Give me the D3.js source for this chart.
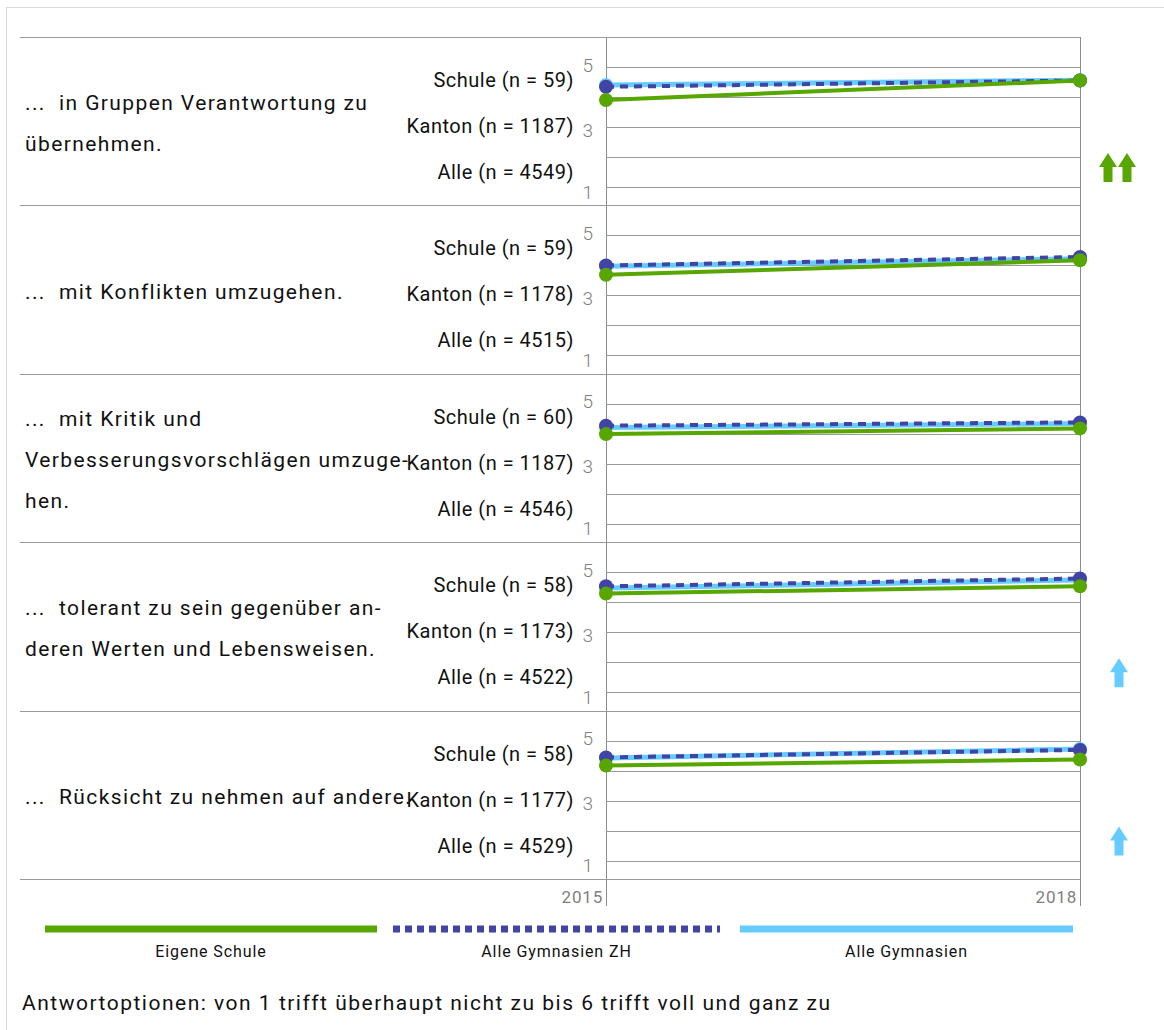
<!DOCTYPE html>
<meta charset="utf-8">
<style>
body, html {
    margin: 0;
    padding: 0;
    background: #fff;
    overflow: hidden;
}
text {
    font-family: Roboto, "Noto Sans", sans-serif;
    white-space: pre;
}
</style>
<svg width="1164" height="1030"></svg>
<script src="https://cdn.jsdelivr.net/npm/d3@7"></script>
<script>

// --- data ---
var questions = [
    ["...  in Gruppen Verantwortung zu", "übernehmen."],
    ["...  mit Konflikten umzugehen."],
    ["...  mit Kritik und", "Verbesserungsvorschlägen umzuge-", "hen."],
    ["...  tolerant zu sein gegenüber an-", "deren Werten und Lebensweisen."],
    ["...  Rücksicht zu nehmen auf andere."]
];
var nSchule = [59, 59, 60, 58, 58];
var nKanton = [1187, 1178, 1187, 1173, 1177];
var nAlle = [4549, 4515, 4546, 4522, 4529];
var years = [2015, 2018];

// means 2015, 2018
var schule = [[3.90, 4.55], [3.69, 4.17], [3.99, 4.18], [4.29, 4.53], [4.17, 4.37]];
var kanton = [[4.34, 4.55], [4.00, 4.28], [4.27, 4.38], [4.53, 4.79], [4.44, 4.69]];
var alle   = [[4.40, 4.56], [3.97, 4.22], [4.21, 4.34], [4.47, 4.74], [4.42, 4.72]];

// trend arrows per item (which series)
var arrows = [["schule", "schule"], [], [], ["alle"], ["alle"]];

var legendLabels = ["Eigene Schule", "Alle Gymnasien ZH", "Alle Gymnasien"];
var yTicks = [1, 3, 5];
var gridValues = [1, 2, 3, 4, 5];
var note = "Antwortoptionen: von 1 trifft überhaupt nicht zu bis 6 trifft voll und ganz zu";

var colors = { schule: "#58a600", kanton: "#4044a4", alle: "#66ccff" };

// --- layout ---
var svg = d3.select("svg");

var x = d3.scaleLinear().domain([2015, 2018]).range([606, 1080]);
var panelTop = d3.scaleLinear().domain([0, 5]).range([37, 879]);
var panelH = panelTop(1) - panelTop(0);

// outer frame
svg.append("rect")
    .attr("x", 6.5).attr("y", 7.5)
    .attr("width", 1200).attr("height", 1100)
    .attr("fill", "none")
    .attr("stroke", "#d9d9d9");

// vertical axis lines
svg.selectAll("line.vaxis")
    .data(years)
  .enter().append("line")
    .attr("class", "vaxis")
    .attr("x1", function(d) { return x(d) + 0.5; })
    .attr("x2", function(d) { return x(d) + 0.5; })
    .attr("y1", panelTop(0))
    .attr("y2", 906)
    .attr("stroke", "#8c8c8c")
    .attr("stroke-width", 1);

// separators
svg.selectAll("line.sep")
    .data(d3.range(6))
  .enter().append("line")
    .attr("class", "sep")
    .attr("x1", 20).attr("x2", x(2018))
    .attr("y1", function(d) { return Math.round(panelTop(d)) + 0.5; })
    .attr("y2", function(d) { return Math.round(panelTop(d)) + 0.5; })
    .attr("stroke", "#9a9a9a");

var line = d3.line();

questions.forEach(function(q, i) {
    var top = panelTop(i);
    var y = d3.scaleLinear().domain([6, 1]).range([top, top + 150]);
    var g = svg.append("g");

    // gridlines
    g.selectAll("line.grid")
        .data(gridValues)
      .enter().append("line")
        .attr("x1", x(2015)).attr("x2", x(2018))
        .attr("y1", function(d) { return Math.round(y(d)) + 0.5; })
        .attr("y2", function(d) { return Math.round(y(d)) + 0.5; })
        .attr("stroke", "#9a9a9a");

    // y tick labels
    g.selectAll("text.tick")
        .data(yTicks)
      .enter().append("text")
        .attr("x", 593)
        .attr("y", function(d) { return y(d) + (d === 5 ? -2 : d === 3 ? 3 : 5); })
        .attr("dy", "0.35em")
        .attr("text-anchor", "end")
        .attr("font-size", 19)
        .attr("font-weight", 300)
        .attr("fill", "#808080")
        .text(function(d) { return d; });

    // group labels
    var groups = ["Schule (n = " + nSchule[i] + ")",
                  "Kanton (n = " + nKanton[i] + ")",
                  "Alle (n = " + nAlle[i] + ")"];
    g.selectAll("text.grp")
        .data(groups)
      .enter().append("text")
        .attr("x", 574)
        .attr("y", function(d, j) { return top + 43 + j * 46; })
        .attr("dy", "0.35em")
        .attr("text-anchor", "end")
        .attr("font-size", 20)
        .attr("letter-spacing", 0.5)
        .attr("fill", "#111")
        .text(function(d) { return d; });

    // question text
    var mid = top + panelH / 2 + 2;
    g.selectAll("text.q")
        .data(q)
      .enter().append("text")
        .attr("x", 25)
        .attr("y", function(d, j) { return mid + (j - (q.length - 1) / 2) * 41; })
        .attr("dy", "0.35em")
        .attr("font-size", 21)
        .attr("letter-spacing", 1.4)
        .attr("fill", "#111")
        .text(function(d) { return d; });

    // series
    var series = [
        { key: "alle", v: alle[i], w: 5, dash: null },
        { key: "kanton", v: kanton[i], w: 4, dash: "8,6" },
        { key: "schule", v: schule[i], w: 4, dash: null }
    ];
    series.forEach(function(s) {
        var pts = years.map(function(yr, k) { return [x(yr), y(s.v[k])]; });
        g.append("path")
            .attr("d", line(pts))
            .attr("fill", "none")
            .attr("stroke", colors[s.key])
            .attr("stroke-width", s.w)
            .attr("stroke-dasharray", s.dash);
        g.selectAll(null)
            .data(pts)
          .enter().append("circle")
            .attr("cx", function(d) { return d[0]; })
            .attr("cy", function(d) { return d[1]; })
            .attr("r", 7)
            .attr("fill", colors[s.key]);
    });

    // trend arrows
    var ax = arrows[i].length === 2 ? [1108, 1127] : [1119];
    arrows[i].forEach(function(key, k) {
        var cx = ax[k], ay = top + 116;
        var p = [[cx, ay], [cx + 9, ay + 14], [cx + 4.5, ay + 14], [cx + 4.5, ay + 29],
                 [cx - 4.5, ay + 29], [cx - 4.5, ay + 14], [cx - 9, ay + 14]];
        g.append("path")
            .attr("d", line(p) + "Z")
            .attr("fill", colors[key]);
    });
});

// year labels
svg.selectAll("text.year")
    .data(years)
  .enter().append("text")
    .attr("x", function(d) { return x(d) - 3; })
    .attr("y", 897)
    .attr("dy", "0.35em")
    .attr("text-anchor", "end")
    .attr("font-size", 17)
    .attr("letter-spacing", 0.8)
    .attr("fill", "#808080")
    .text(function(d) { return d; });

// legend
var legendKeys = ["schule", "kanton", "alle"];
var legendX = [[45, 377], [393, 720], [740, 1073]];
legendKeys.forEach(function(key, k) {
    svg.append("line")
        .attr("x1", legendX[k][0]).attr("x2", legendX[k][1])
        .attr("y1", 929).attr("y2", 929)
        .attr("stroke", colors[key])
        .attr("stroke-width", 7)
        .attr("stroke-dasharray", key === "kanton" ? "7,5" : null);
    svg.append("text")
        .attr("x", (legendX[k][0] + legendX[k][1]) / 2)
        .attr("y", 951)
        .attr("dy", "0.35em")
        .attr("text-anchor", "middle")
        .attr("font-size", 16)
        .attr("letter-spacing", 0.9)
        .attr("fill", "#111")
        .text(legendLabels[k]);
});

svg.append("text")
    .attr("x", 22)
    .attr("y", 1003)
    .attr("dy", "0.35em")
    .attr("font-size", 21)
    .attr("letter-spacing", 1.5)
    .attr("fill", "#111")
    .text(note);

</script>
